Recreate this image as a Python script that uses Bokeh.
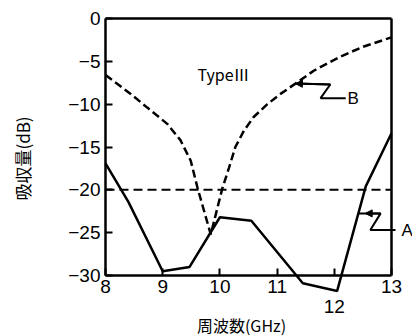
from bokeh.plotting import figure
from bokeh.models import Range1d, FixedTicker, Label, Arrow, NormalHead, LinearAxis
from bokeh.embed import file_html
from bokeh.resources import INLINE
import math

# ---- data ----
freq_a = [8.0, 8.4, 9.0, 9.47, 10.0, 10.55, 11.45, 12.05, 12.55, 13.0]
absorb_a = [-16.9, -21.4, -29.5, -29.0, -23.2, -23.6, -30.9, -31.8, -19.6, -13.4]

freq_b = [8.0, 8.44, 8.73, 9.08, 9.31, 9.49, 9.61, 9.84, 10.04, 10.16, 10.27, 10.42,
          10.59, 10.83, 11.06, 11.32, 11.64, 12.09, 12.5, 13.0]
absorb_b = [-6.6, -8.8, -10.4, -12.3, -14.2, -16.6, -19.8, -25.2, -19.9, -17.4, -15.0, -13.1,
            -11.5, -10.0, -8.8, -7.6, -6.1, -4.5, -3.3, -2.2]

ref_level = -20.0
x_ticks = [8, 9, 10, 11, 12, 13]
y_ticks = [-30, -25, -20, -15, -10, -5, 0]
y_labels = {-30: "\u221230", -25: "\u221225", -20: "\u221220", -15: "\u221215",
            -10: "\u221210", -5: "\u22125", 0: "0"}
x_min, x_max, y_min, y_max = 8, 13, -30, 0

# callout leader lines
lead_b_x = [11.32, 11.93, 11.76, 12.2]
lead_b_y = [-7.6, -7.7, -9.3, -9.3]
lead_a_x = [12.42, 12.81, 12.63, 13.07]
lead_a_y = [-22.75, -22.75, -24.7, -24.7]

# ---- layout (pixels) ----
W, H = 412, 336
PX_L, PX_R = 105, 391      # x = 8 and x = 13
PX_T, PX_B = 18, 275       # y = 0 and y = -30
kx = (PX_R - PX_L) / (x_max - x_min)
ky = (PX_B - PX_T) / (y_max - y_min)


def px_x(px):
    return x_min + (px - PX_L) / kx


def px_y(py):
    return y_max - (py - PX_T) / ky


TICK_FONT = "Liberation Sans"
CJK_FONT = "Noto Sans CJK JP"
INK = "black"

p = figure(frame_width=W, frame_height=H,
           x_range=Range1d(px_x(0), px_x(W)), y_range=Range1d(px_y(H), px_y(0)),
           output_backend="svg", toolbar_location=None,
           x_axis_location=None, y_axis_location=None, min_border=0)
p.outline_line_color = None
p.grid.visible = False
p.background_fill_color = "white"
p.border_fill_color = "white"


def style(ax):
    ax.axis_line_width = 2.5
    ax.axis_line_color = INK
    ax.major_tick_line_color = INK
    ax.major_tick_line_width = 2
    ax.major_tick_in = 7
    ax.major_tick_out = 0
    ax.minor_tick_line_color = None
    ax.major_label_text_font = TICK_FONT
    ax.major_label_text_font_size = "19px"
    ax.major_label_text_color = INK


yax = LinearAxis(ticker=FixedTicker(ticks=y_ticks), bounds=(y_min, y_max), fixed_location=x_min)
style(yax)
yax.major_label_overrides = y_labels
yax.major_label_standoff = 5
p.add_layout(yax, "left")

xax = LinearAxis(ticker=FixedTicker(ticks=x_ticks), bounds=(x_min, x_max), fixed_location=y_min)
style(xax)
xax.major_label_overrides = {12: ""}
xax.major_label_standoff = 4
p.add_layout(xax, "below")

# staggered label for 12
xax12 = LinearAxis(ticker=FixedTicker(ticks=[x_ticks[4]]), fixed_location=y_min)
style(xax12)
xax12.axis_line_color = None
xax12.major_tick_line_color = None
xax12.major_label_standoff = 24
p.add_layout(xax12, "below")

# top and right sides of the box
p.segment(x0=[x_min, x_max], y0=[y_max, y_max], x1=[x_max, x_max], y1=[y_max, y_min],
          line_color=INK, line_width=2.5)

# -20 dB reference level
p.line(x=[x_min, x_max], y=[ref_level, ref_level], line_color=INK,
       line_width=2, line_dash="9 5")

# curves
p.line(x=freq_b, y=absorb_b, line_color=INK, line_width=2.5, line_dash="8 4")
p.line(x=freq_a, y=absorb_a, line_color=INK, line_width=2.5)

# callouts
p.line(x=lead_b_x, y=lead_b_y, line_color=INK, line_width=2)
p.line(x=lead_a_x, y=lead_a_y, line_color=INK, line_width=2)
p.add_layout(Arrow(end=NormalHead(size=7, fill_color=INK, line_color=INK),
                   x_start=lead_b_x[1], y_start=lead_b_y[1],
                   x_end=lead_b_x[0], y_end=lead_b_y[0], line_width=2, line_color=INK))
p.add_layout(Arrow(end=NormalHead(size=7, fill_color=INK, line_color=INK),
                   x_start=lead_a_x[1], y_start=lead_a_y[1],
                   x_end=lead_a_x[0] + 0.12, y_end=lead_a_y[0], line_width=2, line_color=INK))

p.add_layout(Label(x=px_x(347), y=lead_b_y[-1], text="B", text_color=INK,
                   text_font=TICK_FONT, text_font_size="17px", text_baseline="middle"))
p.add_layout(Label(x=px_x(401), y=lead_a_y[-1], text="A", text_color=INK,
                   text_font=TICK_FONT, text_font_size="17px", text_baseline="middle"))
p.add_layout(Label(x=px_x(197), y=px_y(73), text="Type\u2162", text_color=INK,
                   text_font=CJK_FONT, text_font_size="16px", text_baseline="middle"))

# axis titles
p.add_layout(Label(x=px_x(241), y=px_y(324), text="周波数(GHz)", text_font=CJK_FONT,
                   text_color=INK, text_font_size="16px", text_align="center",
                   text_baseline="middle"))
p.add_layout(Label(x=px_x(22), y=px_y(158), text="吸収量(dB)", text_font=CJK_FONT,
                   text_color=INK, text_font_size="17px", text_align="center",
                   text_baseline="middle", angle=math.pi / 2))

open("out.html", "w").write(file_html(p, INLINE))
